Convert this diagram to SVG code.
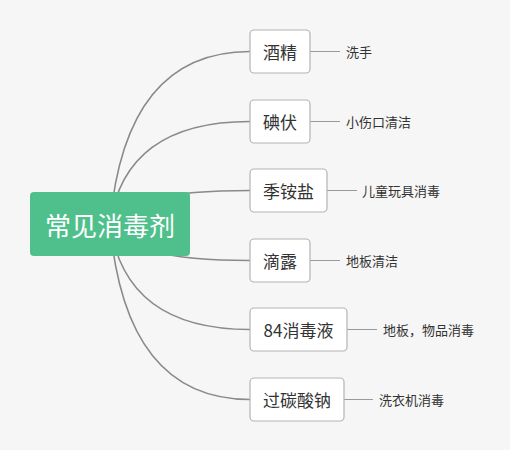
<svg xmlns="http://www.w3.org/2000/svg" width="510" height="450" viewBox="0 0 510 450">
<style>
.bg{fill:#f6f6f6}
.conn{fill:none;stroke:#8a8a8a;stroke-width:1.6}
.leafline{fill:none;stroke:#9a9a9a;stroke-width:1}
.root rect{fill:#4fc08c}
.root text{fill:#ffffff;font-family:"Noto Sans CJK SC","Microsoft YaHei",sans-serif;font-size:26px;text-anchor:middle;dominant-baseline:central}
.node rect{fill:#ffffff;stroke:#b4b4b4;stroke-width:1.2}
.node text{fill:#333333;font-family:"Noto Sans CJK SC",sans-serif;font-size:17px;text-anchor:middle;dominant-baseline:central}
.leaf text{fill:#333333;font-family:"Noto Sans CJK SC",sans-serif;font-size:13px;dominant-baseline:central}
</style>
<rect class="bg" x="0" y="0" width="510" height="450"/>
<g id="connectors">
<path class="conn" d="M110 224 Q125 51.5 250 51.5"/>
<path class="conn" d="M110 224 Q125 121.5 250 121.5"/>
<path class="conn" d="M110 224 Q125 190.5 250 190.5"/>
<path class="conn" d="M110 224 Q125 260.5 250 260.5"/>
<path class="conn" d="M110 224 Q125 329.5 250 329.5"/>
<path class="conn" d="M110 224 Q125 399.5 250 399.5"/>
<path class="leafline" d="M310 51.5 H340"/>
<path class="leafline" d="M310 121.5 H340"/>
<path class="leafline" d="M327 190.5 H357"/>
<path class="leafline" d="M310 260.5 H340"/>
<path class="leafline" d="M347 329.5 H377"/>
<path class="leafline" d="M344 399.5 H373"/>
</g>
<g id="root" class="root">
<rect x="30" y="192" width="160" height="64" rx="4"/>
<text x="110" y="224">常见消毒剂</text>
</g>
<g id="n1" class="node"><rect x="250" y="30" width="60" height="43" rx="4"/><text x="280" y="51.5">酒精</text></g>
<g id="n2" class="node"><rect x="250" y="100" width="60" height="43" rx="4"/><text x="280" y="121.5">碘伏</text></g>
<g id="n3" class="node"><rect x="250" y="169" width="77" height="43" rx="4"/><text x="288.5" y="190.5">季铵盐</text></g>
<g id="n4" class="node"><rect x="250" y="239" width="60" height="43" rx="4"/><text x="280" y="260.5">滴露</text></g>
<g id="n5" class="node"><rect x="250" y="308" width="97" height="43" rx="4"/><text x="298.5" y="329.5">84消毒液</text></g>
<g id="n6" class="node"><rect x="250" y="378" width="94" height="43" rx="4"/><text x="297" y="399.5">过碳酸钠</text></g>
<g id="l1" class="leaf"><text x="346" y="51.5">洗手</text></g>
<g id="l2" class="leaf"><text x="346" y="121.5">小伤口清洁</text></g>
<g id="l3" class="leaf"><text x="362" y="190.5">儿童玩具消毒</text></g>
<g id="l4" class="leaf"><text x="346" y="260.5">地板清洁</text></g>
<g id="l5" class="leaf"><text x="383" y="329.5">地板，物品消毒</text></g>
<g id="l6" class="leaf"><text x="379" y="399.5">洗衣机消毒</text></g>
</svg>
